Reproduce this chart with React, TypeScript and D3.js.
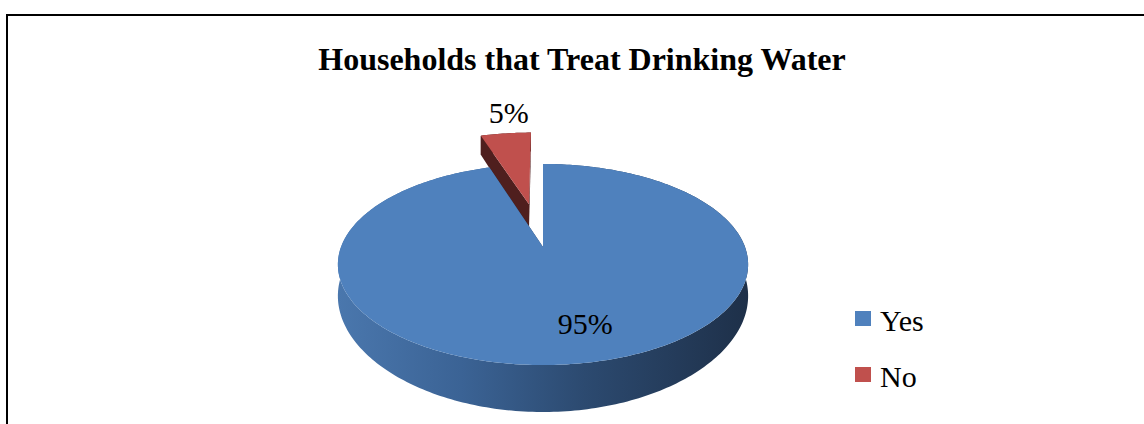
import React from "react";
import * as d3 from "d3";

const title = "Households that Treat Drinking Water";
const categories = ["Yes", "No"];
const values = [95, 5];
const labels = ["95%", "5%"];
const explodeAmount = [0, 0.48];
const topColors = ["#4f81bd", "#c0504d"];
const cutColors = ["#243a5a", "#4f1f1e"];

const W = 1144;
const H = 424;

// perspective projection of the pie disk
const cx = 543, cy = 247, c = 202, a = 97.5, b = 0.174, h0 = 29.4, b2 = 0.374;
function proj(X: number, Z: number, down: number): [number, number] {
  const k = 1 / (1 + b * Z);
  return [cx + c * X * k, cy - a * Z * k + (down * h0) / (1 + b2 * Z)];
}

type Slice = { start: number; end: number; ox: number; oz: number; i: number };

function pt(s: Slice, ang: number, r: number, down: number) {
  return proj(s.ox + r * Math.sin(ang), s.oz + r * Math.cos(ang), down);
}

function arcPts(s: Slice, down: number) {
  const n = Math.max(4, Math.ceil(((s.end - s.start) * 180) / Math.PI));
  return d3.range(n + 1).map((j) => pt(s, s.start + ((s.end - s.start) * j) / n, 1, down));
}

const line = d3.line<[number, number]>().curve(d3.curveLinear);

export default function App() {
  const pieGen = d3.pie<number>().sort(null).startAngle(0).endAngle(2 * Math.PI);
  const arcs = pieGen(values);
  const slices: Slice[] = arcs.map((p, i) => {
    const mid = (p.startAngle + p.endAngle) / 2;
    return {
      start: p.startAngle,
      end: p.endAngle,
      ox: explodeAmount[i] * Math.sin(mid),
      oz: explodeAmount[i] * Math.cos(mid),
      i,
    };
  });

  // draw back (exploded, farther) slices first
  const order = [...slices].sort((s1, s2) => s2.oz - s1.oz);

  const wallPath = (s: Slice) => {
    const top = arcPts(s, 0);
    const bot = arcPts(s, 1).reverse();
    return line([...top, ...bot])! + "Z";
  };
  const topPath = (s: Slice) => {
    const apex = pt(s, 0, 0, 0);
    return line([apex, ...arcPts(s, 0)])! + "Z";
  };
  const cutPath = (s: Slice, ang: number) => {
    const p1 = pt(s, ang, 0, 0);
    const p2 = pt(s, ang, 1, 0);
    const p3 = pt(s, ang, 1, 1);
    const p4 = pt(s, ang, 0, 1);
    return line([p1, p2, p3, p4])! + "Z";
  };

  const labelPos = (s: Slice): [number, number] => {
    const mid = (s.start + s.end) / 2;
    if (explodeAmount[s.i] > 0) {
      const p = pt(s, mid, 1, 0);
      return [p[0] + 3, p[1] - 10];
    }
    const p = pt(s, mid, 0.7, 0);
    return [p[0] + 17, p[1] + 10];
  };

  const font = "'Liberation Serif', 'Times New Roman', serif";

  return (
    <div style={{ position: "absolute", left: 0, top: 0 }}>
      <svg width={W} height={H} style={{ display: "block", background: "#fff" }}>
        <defs>
          <linearGradient id="wallBlue" gradientUnits="userSpaceOnUse" x1={338} y1={0} x2={748} y2={0}>
            <stop offset="0" stopColor="#4a77ad" />
            <stop offset="0.3" stopColor="#3b6395" />
            <stop offset="0.6" stopColor="#2c4a70" />
            <stop offset="1" stopColor="#1e3049" />
          </linearGradient>
        </defs>
        <rect x={7} y={15} width={W + 20} height={H + 20} fill="none" stroke="#000" strokeWidth={2} />
        <text
          x={582}
          y={70}
          textAnchor="middle"
          fontFamily={font}
          fontWeight="bold"
          fontSize={32}
          fill="#000"
        >
          {title}
        </text>
        {order.map((s) => (
          <g key={categories[s.i]}>
            <path d={wallPath(s)} fill={s.i === 0 ? "url(#wallBlue)" : cutColors[s.i]} />
            <path d={cutPath(s, s.start)} fill={cutColors[s.i]} />
            <path d={cutPath(s, s.end)} fill={cutColors[s.i]} />
            <path d={topPath(s)} fill={topColors[s.i]} />
          </g>
        ))}
        {slices.map((s) => {
          const [lx, ly] = labelPos(s);
          return (
            <text
              key={"l" + s.i}
              x={lx}
              y={ly}
              textAnchor="middle"
              fontFamily={font}
              fontSize={30}
              fill="#000"
            >
              {labels[s.i]}
            </text>
          );
        })}
        {categories.map((cat, i) => (
          <g key={"lg" + cat} transform={`translate(855,${311 + i * 56})`}>
            <rect x={0} y={0} width={16} height={15} fill={topColors[i]} />
            <text x={25} y={19.5} fontFamily={font} fontSize={30} fill="#000">
              {cat}
            </text>
          </g>
        ))}
      </svg>
    </div>
  );
}
